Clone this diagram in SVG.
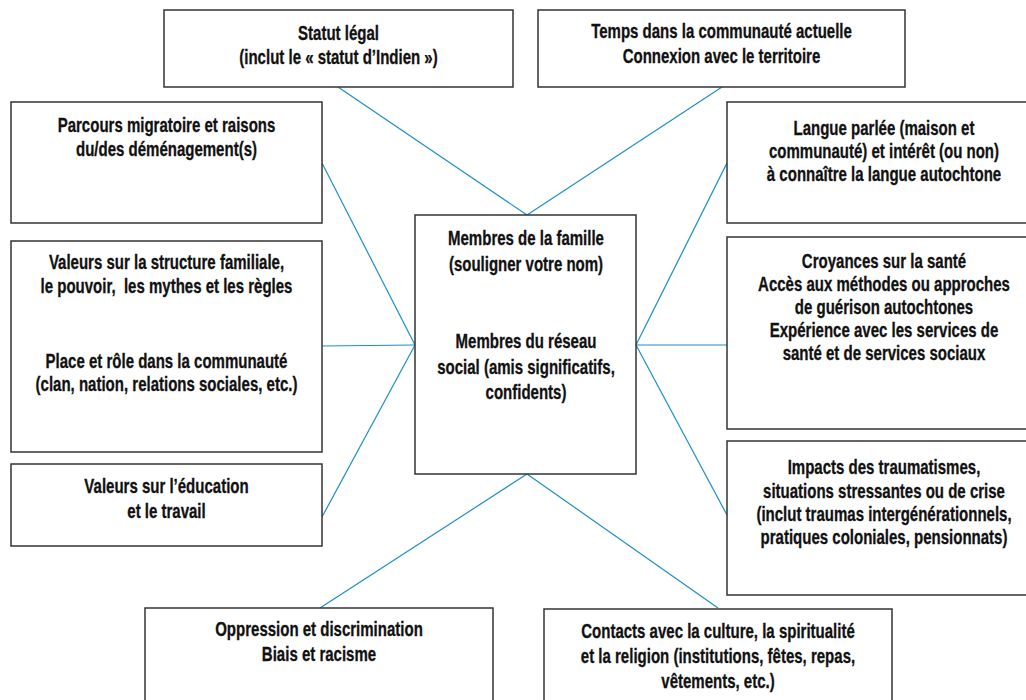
<svg xmlns="http://www.w3.org/2000/svg" width="1026" height="700" viewBox="0 0 1026 700">
<style>
.box{fill:#fff;stroke:#333;stroke-width:1.5}
.t{font-family:"Liberation Sans",Arial,sans-serif;font-weight:bold;font-size:19.5px;fill:#111;stroke:#111;stroke-width:0.3;text-anchor:middle}
.c{stroke:#1b8fc7;stroke-width:1.2;fill:none}
</style>
<rect width="1026" height="700" fill="#fff"/>
<g id="connectors">
<line class="c" x1="338" y1="87" x2="527" y2="215"/>
<line class="c" x1="722" y1="87" x2="527" y2="215"/>
<line class="c" x1="322" y1="163" x2="415" y2="345"/>
<line class="c" x1="322" y1="346" x2="415" y2="345"/>
<line class="c" x1="322" y1="517" x2="415" y2="345"/>
<line class="c" x1="727" y1="163" x2="636" y2="345"/>
<line class="c" x1="727" y1="345" x2="636" y2="345"/>
<line class="c" x1="727" y1="515" x2="636" y2="345"/>
<line class="c" x1="527" y1="474" x2="320" y2="608"/>
<line class="c" x1="527" y1="474" x2="718" y2="608"/>
</g>
<g id="statut">
<rect class="box" x="164" y="10" width="349" height="77"/>
<text class="t" transform="translate(338.5,40) scale(0.77,1)">Statut légal</text>
<text class="t" transform="translate(338.5,64) scale(0.77,1)">(inclut le « statut d’Indien »)</text>
</g>
<g id="temps">
<rect class="box" x="538" y="10" width="367" height="77"/>
<text class="t" transform="translate(721.5,38) scale(0.77,1)">Temps dans la communauté actuelle</text>
<text class="t" transform="translate(721.5,63) scale(0.77,1)">Connexion avec le territoire</text>
</g>
<g id="parcours">
<rect class="box" x="11" y="102" width="311" height="121"/>
<text class="t" transform="translate(166.5,132) scale(0.77,1)">Parcours migratoire et raisons</text>
<text class="t" transform="translate(166.5,156) scale(0.77,1)">du/des déménagement(s)</text>
</g>
<g id="langue">
<rect class="box" x="727" y="102" width="310" height="121"/>
<text class="t" transform="translate(884,135) scale(0.77,1)">Langue parlée (maison et</text>
<text class="t" transform="translate(884,158) scale(0.77,1)">communauté) et intérêt (ou non)</text>
<text class="t" transform="translate(884,181) scale(0.77,1)">à connaître la langue autochtone</text>
</g>
<g id="valeurs-structure">
<rect class="box" x="11" y="241" width="311" height="211"/>
<text class="t" transform="translate(166.5,269) scale(0.77,1)">Valeurs sur la structure familiale,</text>
<text class="t" transform="translate(166.5,293) scale(0.77,1)" xml:space="preserve">le pouvoir,  les mythes et les règles</text>
<text class="t" transform="translate(166.5,368) scale(0.77,1)">Place et rôle dans la communauté</text>
<text class="t" transform="translate(166.5,391) scale(0.77,1)">(clan, nation, relations sociales, etc.)</text>
</g>
<g id="croyances">
<rect class="box" x="727" y="237" width="310" height="192"/>
<text class="t" transform="translate(884,268) scale(0.77,1)">Croyances sur la santé</text>
<text class="t" transform="translate(884,291) scale(0.77,1)">Accès aux méthodes ou approches</text>
<text class="t" transform="translate(884,314) scale(0.77,1)">de guérison autochtones</text>
<text class="t" transform="translate(884,337) scale(0.77,1)">Expérience avec les services de</text>
<text class="t" transform="translate(884,360) scale(0.77,1)">santé et de services sociaux</text>
</g>
<g id="centre">
<rect class="box" x="415" y="215" width="221" height="259"/>
<text class="t" transform="translate(526,245) scale(0.77,1)">Membres de la famille</text>
<text class="t" transform="translate(526,271) scale(0.77,1)">(souligner votre nom)</text>
<text class="t" transform="translate(526,348) scale(0.77,1)">Membres du réseau</text>
<text class="t" transform="translate(526,374) scale(0.77,1)">social (amis significatifs,</text>
<text class="t" transform="translate(526,399) scale(0.77,1)">confidents)</text>
</g>
<g id="valeurs-education">
<rect class="box" x="11" y="464" width="311" height="82"/>
<text class="t" transform="translate(166.5,493) scale(0.77,1)">Valeurs sur l’éducation</text>
<text class="t" transform="translate(166.5,518) scale(0.77,1)">et le travail</text>
</g>
<g id="impacts">
<rect class="box" x="727" y="441" width="310" height="154"/>
<text class="t" transform="translate(884,474) scale(0.77,1)">Impacts des traumatismes,</text>
<text class="t" transform="translate(884,498) scale(0.77,1)">situations stressantes ou de crise</text>
<text class="t" transform="translate(884,521) scale(0.77,1)">(inclut traumas intergénérationnels,</text>
<text class="t" transform="translate(884,544) scale(0.77,1)">pratiques coloniales, pensionnats)</text>
</g>
<g id="oppression">
<rect class="box" x="145" y="608" width="348" height="110"/>
<text class="t" transform="translate(319,636) scale(0.77,1)">Oppression et discrimination</text>
<text class="t" transform="translate(319,661) scale(0.77,1)">Biais et racisme</text>
</g>
<g id="contacts">
<rect class="box" x="544" y="609" width="348" height="110"/>
<text class="t" transform="translate(718,638) scale(0.77,1)">Contacts avec la culture, la spiritualité</text>
<text class="t" transform="translate(718,663) scale(0.77,1)">et la religion (institutions, fêtes, repas,</text>
<text class="t" transform="translate(718,688) scale(0.77,1)">vêtements, etc.)</text>
</g>
</svg>
